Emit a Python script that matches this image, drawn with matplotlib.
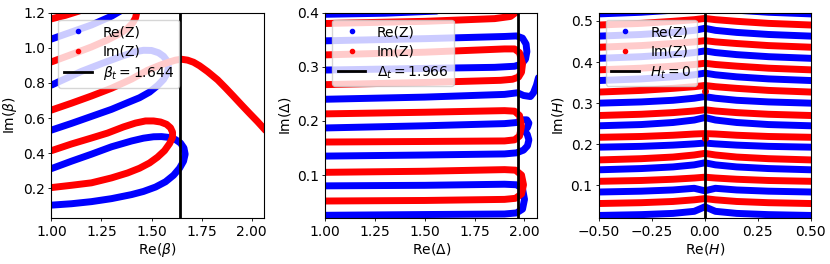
import matplotlib
matplotlib.use('Agg')
import matplotlib.pyplot as plt

# ---- panel 1: beta plane, zero lines of Re(Z) (blue) and Im(Z) (red)
beta_re = [
    ([1.00,1.10,1.20,1.30,1.40,1.46,1.52,1.57,1.61,1.64,1.66,1.668,1.662,1.645,1.62,1.59,1.55,1.51,1.46,1.40,1.30,1.20,1.10,1.00],
     [0.105,0.113,0.125,0.142,0.165,0.183,0.208,0.238,0.275,0.315,0.355,0.395,0.43,0.458,0.478,0.49,0.495,0.494,0.486,0.47,0.437,0.395,0.355,0.313]),
    ([1.00,1.10,1.20,1.30,1.38,1.44,1.49,1.53,1.56,1.578,1.585,1.578,1.56,1.535,1.50,1.46,1.42,1.35,1.25,1.15,1.00],
     [0.532,0.57,0.61,0.65,0.688,0.716,0.748,0.785,0.82,0.855,0.89,0.925,0.952,0.972,0.985,0.986,0.978,0.952,0.91,0.866,0.788]),
    ([1.00,1.10,1.20,1.30,1.345],
     [1.05,1.09,1.13,1.18,1.21]),
]
beta_im = [
    ([1.00,1.10,1.20,1.30,1.38,1.44,1.49,1.53,1.565,1.59,1.605,1.605,1.595,1.575,1.545,1.51,1.47,1.42,1.36,1.28,1.20,1.10,1.00],
     [0.205,0.218,0.232,0.26,0.288,0.315,0.345,0.378,0.415,0.455,0.49,0.52,0.545,0.565,0.578,0.584,0.584,0.572,0.55,0.515,0.487,0.453,0.415]),
    ([1.00,1.10,1.20,1.30,1.40,1.48,1.54,1.59,1.62,1.65,1.68,1.71,1.74,1.78,1.83,1.87,1.91,1.95,1.99,2.03,2.07],
     [0.646,0.685,0.726,0.77,0.822,0.872,0.90,0.92,0.93,0.935,0.93,0.918,0.898,0.865,0.818,0.772,0.724,0.675,0.627,0.58,0.53]),
    ([1.00,1.10,1.20,1.28,1.34,1.38,1.405,1.42,1.43],
     [0.92,0.962,1.005,1.045,1.08,1.11,1.14,1.17,1.22]),
    ([1.00,1.07,1.14],
     [1.165,1.185,1.21]),
]
beta_t = 1.644

# ---- panel 2: Delta plane
delta_re = [
    ([1.00,1.30,1.56],
     [0.397,0.399,0.403]),
    ([1.00,1.50,1.90,1.96,1.99,2.008,2.012,2.005,1.985,1.95,1.85,1.50,1.00],
     [0.348,0.352,0.356,0.357,0.353,0.342,0.328,0.314,0.305,0.301,0.299,0.297,0.294]),
    ([1.00,1.50,1.90,1.965,1.995,2.03,2.045,2.06,2.07],
     [0.240,0.244,0.249,0.252,0.247,0.245,0.252,0.266,0.28]),
    ([1.00,1.50,1.90,1.96,1.99,2.012,2.022,2.015,2.00,2.014,2.022,2.015,1.995,1.96,1.90,1.50,1.00],
     [0.187,0.191,0.195,0.197,0.202,0.202,0.196,0.188,0.182,0.175,0.165,0.154,0.146,0.141,0.139,0.137,0.135]),
    ([1.00,1.50,1.90,1.96,1.99,2.00,1.99,1.96,1.90,1.50,1.00],
     [0.080,0.081,0.083,0.082,0.075,0.055,0.037,0.030,0.028,0.027,0.0256]),
]
delta_im = [
    ([1.00,1.50,1.85,1.93,1.955,1.965],
     [0.380,0.384,0.389,0.393,0.40,0.41]),
    ([1.00,1.50,1.90,1.95,1.975,1.99,1.985,1.97,1.94,1.88,1.50,1.00],
     [0.322,0.327,0.333,0.333,0.326,0.305,0.29,0.281,0.277,0.275,0.271,0.267]),
    ([1.00,1.50,1.90,1.95,1.975,1.985,1.975,1.95,1.90,1.50,1.00],
     [0.213,0.216,0.219,0.218,0.21,0.19,0.172,0.165,0.163,0.162,0.161]),
    ([1.00,1.50,1.90,1.955,1.985,1.995,1.985,1.955,1.90,1.50,1.00],
     [0.105,0.107,0.110,0.109,0.100,0.082,0.065,0.057,0.055,0.053,0.052]),
]
delta_t = 1.966

# ---- panel 3: H plane, all lines share the same x samples
h_x = [-0.5,-0.3,-0.15,-0.05,0.0,0.05,0.15,0.3,0.5]
h_re = [
    [0.027,0.029,0.032,0.037,0.048,0.037,0.032,0.029,0.027],
    [0.084,0.086,0.089,0.093,0.087,0.093,0.089,0.086,0.084],
    [0.138,0.141,0.145,0.150,0.155,0.150,0.145,0.141,0.138],
    [0.193,0.195,0.198,0.201,0.203,0.201,0.198,0.195,0.193],
    [0.245,0.248,0.253,0.259,0.265,0.259,0.253,0.248,0.245],
    [0.300,0.303,0.307,0.312,0.316,0.312,0.307,0.303,0.300],
    [0.355,0.359,0.364,0.369,0.373,0.369,0.364,0.359,0.355],
    [0.409,0.413,0.418,0.423,0.427,0.423,0.418,0.413,0.409],
    [0.463,0.467,0.472,0.477,0.482,0.477,0.472,0.467,0.463],
    [0.517,0.521,0.526,0.531,0.536,0.531,0.526,0.521,0.517],
]
h_im = [
    [0.056,0.058,0.061,0.065,0.068,0.065,0.061,0.058,0.056],
    [0.110,0.112,0.115,0.118,0.120,0.118,0.115,0.112,0.110],
    [0.162,0.165,0.169,0.174,0.178,0.174,0.169,0.165,0.162],
    [0.217,0.219,0.222,0.225,0.226,0.225,0.222,0.219,0.217],
    [0.270,0.273,0.277,0.281,0.284,0.281,0.277,0.273,0.270],
    [0.327,0.331,0.336,0.340,0.343,0.340,0.336,0.331,0.327],
    [0.381,0.385,0.390,0.394,0.397,0.394,0.390,0.385,0.381],
    [0.436,0.440,0.445,0.449,0.452,0.449,0.445,0.440,0.436],
    [0.490,0.494,0.499,0.503,0.506,0.503,0.499,0.494,0.490],
]
# stray Im(Z) points sitting on the H_t line
h_im_dots_y = [0.215, 0.330]
h_t = 0

LW = 5

fig, axes = plt.subplots(1, 3, figsize=(8.3, 2.64), dpi=100)
fig.subplots_adjust(left=0.062, right=0.977, bottom=0.173, top=0.952, wspace=0.29)

def draw(ax, re_curves, im_curves):
    for x, y in re_curves:
        ax.plot(x, y, color='b', lw=LW, solid_capstyle='round', solid_joinstyle='round')
    for x, y in im_curves:
        ax.plot(x, y, color='r', lw=LW, solid_capstyle='round', solid_joinstyle='round')
    # legend proxies
    ax.plot([], [], '.', color='b', label='Re(Z)')
    ax.plot([], [], '.', color='r', label='Im(Z)')

# beta
ax = axes[0]
draw(ax, beta_re, beta_im)
ax.axvline(beta_t, color='k', lw=2, label=r'$\beta_t = %.3f$' % beta_t)
ax.set_xlim(1.0, 2.06)
ax.set_ylim(0.03, 1.2)
ax.set_xticks([1.0, 1.25, 1.5, 1.75, 2.0])
ax.set_yticks([0.2, 0.4, 0.6, 0.8, 1.0, 1.2])
ax.set_xlabel(r'Re($\beta$)', labelpad=2)
ax.set_ylabel(r'Im($\beta$)', labelpad=3)
ax.legend(loc='upper left', fontsize=10, labelspacing=0.4)

# Delta
ax = axes[1]
draw(ax, delta_re, delta_im)
ax.axvline(delta_t, color='k', lw=2, label=r'$\Delta_t = %.3f$' % delta_t)
ax.set_xlim(1.0, 2.064)
ax.set_ylim(0.02, 0.4)
ax.set_xticks([1.0, 1.25, 1.5, 1.75, 2.0])
ax.set_yticks([0.1, 0.2, 0.3, 0.4])
ax.set_xlabel(r'Re($\Delta$)', labelpad=2)
ax.set_ylabel(r'Im($\Delta$)', labelpad=3)
ax.legend(loc='upper left', fontsize=10, labelspacing=0.4)

# H
ax = axes[2]
draw(ax, [(h_x, y) for y in h_re], [(h_x, y) for y in h_im])
ax.plot([h_t] * len(h_im_dots_y), h_im_dots_y, 'o', color='r', ms=4)
ax.axvline(h_t, color='k', lw=2, label=r'$H_t = %d$' % h_t)
ax.set_xlim(-0.5, 0.5)
ax.set_ylim(0.02, 0.52)
ax.set_xticks([-0.5, -0.25, 0.0, 0.25, 0.5])
ax.set_yticks([0.1, 0.2, 0.3, 0.4, 0.5])
ax.set_xlabel(r'Re($H$)', labelpad=2)
ax.set_ylabel(r'Im($H$)', labelpad=3)
ax.legend(loc='upper left', fontsize=10, labelspacing=0.4)

for ax in axes:
    ax.tick_params(labelsize=10, length=2.5, width=0.6, pad=2)

plt.savefig('out.png', dpi=100)
